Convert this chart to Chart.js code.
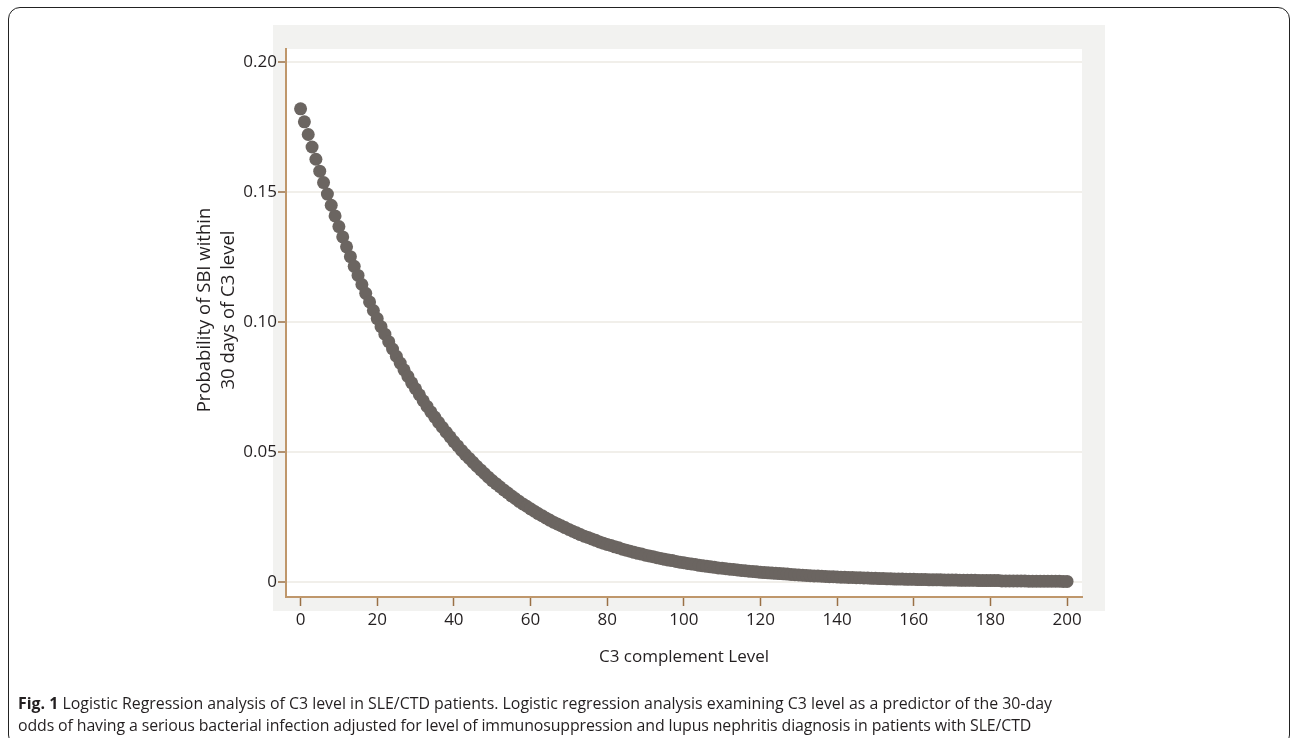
<!DOCTYPE html>
<html>
<head>
<meta charset="utf-8">
<script src="https://cdn.jsdelivr.net/npm/chart.js@4.4.1/dist/chart.umd.min.js"></script>
<style>
  html, body { margin: 0; padding: 0; background: #fff; }
  body { width: 1292px; height: 738px; position: relative; overflow: hidden; font-family: "Open Sans", sans-serif; }
  #frame {
    position: absolute; left: 8px; top: 7px; width: 1282px; height: 740px;
    border: 1.5px solid #222; border-radius: 12px; box-sizing: border-box;
  }
  #chart-wrap { position: absolute; left: 0; top: 0; width: 1292px; height: 738px; }
  .caption {
    position: absolute; left: 18px; top: 692px; font-size: 15.9px; line-height: 22px;
    color: #231f20; white-space: nowrap;
  }
  .caption b { font-weight: 700; }
  .caption .second { letter-spacing: -0.12px; }
</style>
</head>
<body>
<div id="frame"></div>
<div id="chart-wrap"><canvas id="c3Chart" width="1292" height="738"></canvas></div>
<div class="caption">
  <div><b>Fig. 1</b> Logistic Regression analysis of C3 level in SLE/CTD patients. Logistic regression analysis examining C3 level as a predictor of the 30-day</div>
  <div class="second">odds of having a serious bacterial infection adjusted for level of immunosuppression and lupus nephritis diagnosis in patients with SLE/CTD</div>
</div>
<script>
// C3 complement level (x) and predicted 30-day probability of SBI (y)
const c3Levels = [
  0, 1, 2, 3, 4, 5, 6, 7, 8, 9, 10, 11, 12, 13, 14, 15, 16, 17, 18, 19,
  20, 21, 22, 23, 24, 25, 26, 27, 28, 29, 30, 31, 32, 33, 34, 35, 36, 37, 38, 39,
  40, 41, 42, 43, 44, 45, 46, 47, 48, 49, 50, 51, 52, 53, 54, 55, 56, 57, 58, 59,
  60, 61, 62, 63, 64, 65, 66, 67, 68, 69, 70, 71, 72, 73, 74, 75, 76, 77, 78, 79,
  80, 81, 82, 83, 84, 85, 86, 87, 88, 89, 90, 91, 92, 93, 94, 95, 96, 97, 98, 99,
  100, 101, 102, 103, 104, 105, 106, 107, 108, 109, 110, 111, 112, 113, 114, 115, 116, 117, 118, 119,
  120, 121, 122, 123, 124, 125, 126, 127, 128, 129, 130, 131, 132, 133, 134, 135, 136, 137, 138, 139,
  140, 141, 142, 143, 144, 145, 146, 147, 148, 149, 150, 151, 152, 153, 154, 155, 156, 157, 158, 159,
  160, 161, 162, 163, 164, 165, 166, 167, 168, 169, 170, 171, 172, 173, 174, 175, 176, 177, 178, 179,
  180, 181, 182, 183, 184, 185, 186, 187, 188, 189, 190, 191, 192, 193, 194, 195, 196, 197, 198, 199,
  200
];

const sbiProbability = [
  0.1820, 0.1770, 0.1721, 0.1673, 0.1626, 0.1580, 0.1536, 0.1492, 0.1449, 0.1408,
  0.1367, 0.1327, 0.1289, 0.1251, 0.1214, 0.1179, 0.1144, 0.1110, 0.1077, 0.1044,
  0.1013, 0.0982, 0.0953, 0.0924, 0.0896, 0.0868, 0.0842, 0.0816, 0.0791, 0.0766,
  0.0743, 0.0720, 0.0697, 0.0675, 0.0654, 0.0634, 0.0614, 0.0595, 0.0576, 0.0558,
  0.0540, 0.0523, 0.0506, 0.0490, 0.0475, 0.0460, 0.0445, 0.0431, 0.0417, 0.0403,
  0.0390, 0.0378, 0.0366, 0.0354, 0.0343, 0.0331, 0.0321, 0.0310, 0.0300, 0.0291,
  0.0281, 0.0272, 0.0263, 0.0255, 0.0246, 0.0238, 0.0230, 0.0223, 0.0216, 0.0209,
  0.0202, 0.0195, 0.0189, 0.0182, 0.0176, 0.0171, 0.0165, 0.0160, 0.0154, 0.0149,
  0.0144, 0.0140, 0.0135, 0.0131, 0.0126, 0.0122, 0.0118, 0.0114, 0.0110, 0.0107,
  0.0103, 0.0100, 0.0097, 0.0093, 0.0090, 0.0087, 0.0084, 0.0082, 0.0079, 0.0076,
  0.0074, 0.0071, 0.0069, 0.0067, 0.0064, 0.0062, 0.0060, 0.0058, 0.0056, 0.0054,
  0.0053, 0.0051, 0.0049, 0.0048, 0.0046, 0.0044, 0.0043, 0.0041, 0.0040, 0.0039,
  0.0037, 0.0036, 0.0035, 0.0034, 0.0033, 0.0032, 0.0031, 0.0030, 0.0029, 0.0028,
  0.0027, 0.0026, 0.0025, 0.0024, 0.0023, 0.0023, 0.0022, 0.0021, 0.0020, 0.0020,
  0.0019, 0.0018, 0.0018, 0.0017, 0.0017, 0.0016, 0.0016, 0.0015, 0.0015, 0.0014,
  0.0014, 0.0013, 0.0013, 0.0012, 0.0012, 0.0011, 0.0011, 0.0011, 0.0010, 0.0010,
  0.0010, 0.0009, 0.0009, 0.0009, 0.0008, 0.0008, 0.0008, 0.0008, 0.0007, 0.0007,
  0.0007, 0.0007, 0.0006, 0.0006, 0.0006, 0.0006, 0.0006, 0.0005, 0.0005, 0.0005,
  0.0005, 0.0005, 0.0005, 0.0004, 0.0004, 0.0004, 0.0004, 0.0004, 0.0004, 0.0004,
  0.0003, 0.0003, 0.0003, 0.0003, 0.0003, 0.0003, 0.0003, 0.0003, 0.0003, 0.0002,
  0.0002
];

const xTicks = [0, 20, 40, 60, 80, 100, 120, 140, 160, 180, 200];
const yTicks = [0, 0.05, 0.10, 0.15, 0.20];

const xTitle = 'C3 complement Level';
const yTitle = ['Probability of SBI within', '30 days of C3 level'];

// colours
const AXIS_TAN = '#bf976b';
const TICK_BROWN = '#9a7046';
const DOT_GREY = '#6b6561';
const GRID_FAINT = '#f1efea';
const PANEL_GREY = '#f2f2f0';
const TEXT_DARK = '#231f20';

// JMP style grey frame behind the white plot area
const panelPlugin = {
  id: 'panel',
  beforeDraw: (chart) => {
    const { ctx, chartArea: a } = chart;
    ctx.save();
    ctx.fillStyle = PANEL_GREY;
    ctx.fillRect(a.left - 13, a.top - 24, (a.right - a.left) + 36, (a.bottom - a.top) + 38);
    ctx.fillStyle = '#ffffff';
    ctx.fillRect(a.left, a.top, a.right - a.left, a.bottom - a.top);
    ctx.restore();
  }
};

// y title sits a little above the axis middle in the original, so draw it by hand
const yTitlePlugin = {
  id: 'yTitle',
  afterDraw: (chart) => {
    const { ctx, chartArea: a } = chart;
    const midY = (a.top + a.bottom) / 2 - 13;
    ctx.save();
    ctx.fillStyle = TEXT_DARK;
    ctx.font = '18.5px "Open Sans"';
    ctx.textAlign = 'center';
    ctx.textBaseline = 'middle';
    yTitle.forEach((line, i) => {
      ctx.save();
      ctx.translate(a.left - 81 + i * 24, midY);
      ctx.rotate(-Math.PI / 2);
      ctx.fillText(line, 0, 0);
      ctx.restore();
    });
    ctx.restore();
  }
};

const points = c3Levels.map((x, i) => ({ x: x, y: sbiProbability[i] }));

const ctx = document.getElementById('c3Chart').getContext('2d');
new Chart(ctx, {
  type: 'scatter',
  data: {
    datasets: [{
      data: points,
      backgroundColor: DOT_GREY,
      borderWidth: 0,
      pointRadius: 6.5,
      pointHoverRadius: 6.5,
      showLine: false
    }]
  },
  plugins: [panelPlugin, yTitlePlugin],
  options: {
    responsive: false,
    animation: false,
    events: [],
    layout: { padding: { left: 0, top: 49, right: 210, bottom: 71 } },
    plugins: {
      legend: { display: false },
      tooltip: { enabled: false }
    },
    scales: {
      x: {
        type: 'linear',
        min: -3.8,
        max: 203.9,
        afterBuildTicks: (s) => { s.ticks = xTicks.map(v => ({ value: v })); },
        afterFit: (s) => { s.height = 70; },
        border: { color: AXIS_TAN, width: 2 },
        grid: { drawOnChartArea: false, tickColor: TICK_BROWN, tickLength: 9, tickWidth: 1.5 },
        ticks: {
          color: TEXT_DARK, padding: 4,
          font: { family: 'Open Sans', size: 17 },
          maxRotation: 0
        },
        title: {
          display: true, text: xTitle, color: TEXT_DARK,
          font: { family: 'Open Sans', size: 17, lineHeight: 1.2 },
          padding: { top: 0, bottom: 0 }
        }
      },
      y: {
        type: 'linear',
        min: -0.0058,
        max: 0.205,
        afterBuildTicks: (s) => { s.ticks = yTicks.map(v => ({ value: v })); },
        afterFit: (s) => { s.width = 286; },
        border: { color: AXIS_TAN, width: 2 },
        grid: { color: GRID_FAINT, lineWidth: 2, tickColor: TICK_BROWN, tickLength: 8, tickWidth: 1.5 },
        ticks: {
          color: TEXT_DARK, padding: 1,
          font: { family: 'Open Sans', size: 17 },
          callback: (v) => v === 0 ? '0' : v.toFixed(2)
        },
        title: { display: false }
      }
    }
  }
});
</script>
</body>
</html>
